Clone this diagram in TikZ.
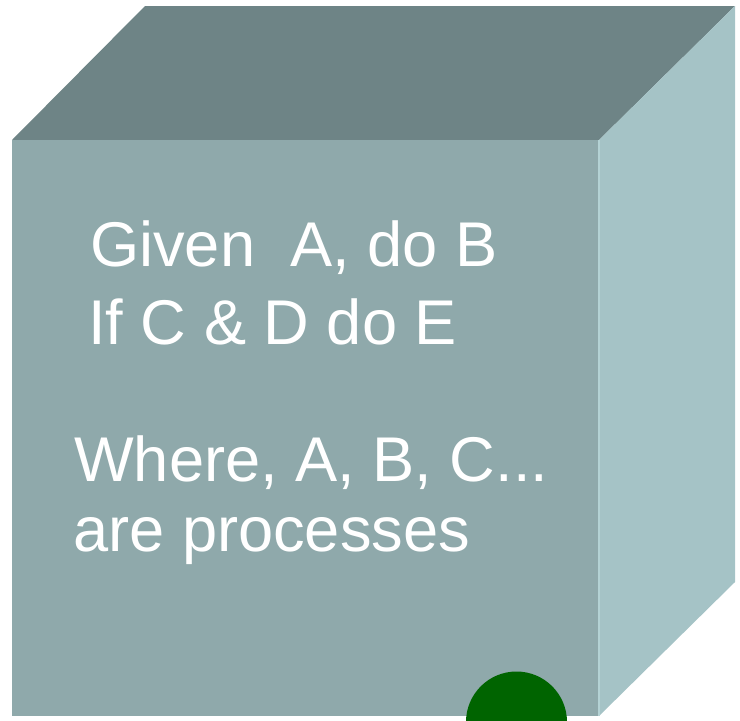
\documentclass[tikz,border=0pt]{standalone}
\usepackage{fontspec}
\setmainfont{Liberation Sans}
\definecolor{topface}{HTML}{6E8486}
\definecolor{frontface}{HTML}{8FA9AB}
\definecolor{rightface}{HTML}{A5C3C6}
\definecolor{edgelight}{HTML}{B4D2D4}
\definecolor{dotgreen}{HTML}{006400}
\tikzset{
  cubetext/.style={text=white, anchor=base west, inner sep=0pt, font=\fontsize{63.2}{70}\selectfont}
}
\begin{document}
\begin{tikzpicture}[x=1pt,y=-1pt]
\useasboundingbox (0,0) rectangle (740,721);
\clip (0,0) rectangle (740,721);
% faces
\fill[topface] (12,140) -- (145,6) -- (735,6) -- (599,140) -- cycle;
\fill[rightface] (599,140) -- (735,6) -- (735,582) -- (599,716) -- cycle;
\fill[frontface] (12,140) rectangle (599,716);
\draw[edgelight, line width=1.2pt] (599,140) -- (599,716);
% text
\node[cubetext] (l1) at (90,266.5) {Given\ \ A, do B};
\node[cubetext] (l2) at (88,344) {If C \& D do E};
\node[cubetext] (l3) at (74,481) {Where, A, B, C...};
\node[cubetext] (l4) at (73,551.5) {are processes};
% green dot
\fill[dotgreen] (516.5,722) circle[radius=50.5];
\coordinate (dot) at (516.5,722);
\end{tikzpicture}
\end{document}
